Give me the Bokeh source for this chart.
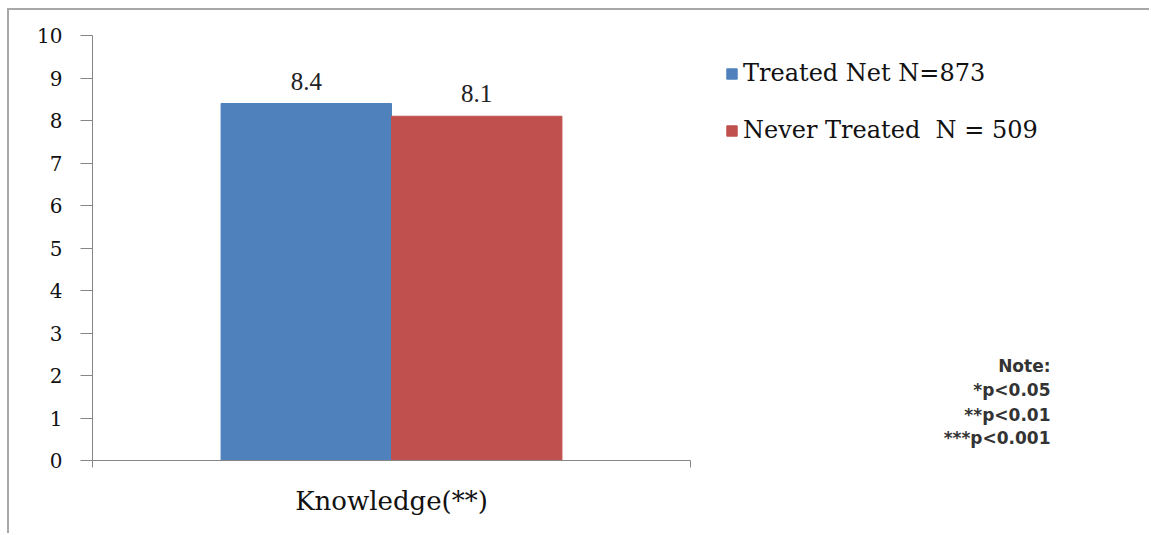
from bokeh.plotting import figure
from bokeh.models import Range1d, FixedTicker, ColumnDataSource, LabelSet, Label, Legend, LegendItem
from bokeh.transform import dodge
from bokeh.embed import file_html
from bokeh.resources import INLINE

# ---- data ----
categories = ["Knowledge(**)"]
series_names = ["Treated Net N=873", "Never Treated  N = 509"]
treated = [8.4]
never_treated = [8.1]
colors = ["#4F81BD", "#C0504D"]
y_ticks = list(range(0, 11))
y_max = 10
note_lines = ["Note:", "*p<0.05", "**p<0.01", "***p<0.001"]

# ---- layout (pixels) ----
W, H = 1142, 525
left, bottom = 83, 75
frame_w, frame_h = W - left, H - bottom
cat_px = 598          # width of the category axis in pixels
top_px = 25           # gap between y=10 and the top of the frame
n = len(categories)

p = figure(width=W, height=H, output_backend="svg", toolbar_location=None,
           x_range=Range1d(0, n * frame_w / cat_px),
           y_range=Range1d(0, y_max * frame_h / (frame_h - top_px)),
           min_border_left=left, min_border_right=0, min_border_top=0, min_border_bottom=bottom,
           background_fill_color="#ffffff", border_fill_color="#ffffff")
p.styles = {"margin-left": "9px", "margin-top": "10px",
            "box-shadow": "-2px -2px 0 0 #a8a8a8"}
p.outline_line_color = None
p.xgrid.visible = False
p.ygrid.visible = False

centers = [i + 0.5 for i in range(n)]
src = ColumnDataSource(dict(x=centers, cat=categories, treated=treated, never=never_treated,
                            tl=[f"{v:.1f}" for v in treated], nl=[f"{v:.1f}" for v in never_treated]))
bw = 0.285
r1 = p.vbar(x=dodge('x', -bw / 2, range=p.x_range), top='treated', width=bw, source=src,
            fill_color=colors[0], line_color=colors[0])
r2 = p.vbar(x=dodge('x', bw / 2, range=p.x_range), top='never', width=bw, source=src,
            fill_color=colors[1], line_color=colors[1])

for col, lab, off in [("treated", "tl", -bw / 2), ("never", "nl", bw / 2)]:
    p.add_layout(LabelSet(x=dodge('x', off, range=p.x_range), y=col, text=lab, source=src,
                          text_align="center", text_baseline="bottom", y_offset=14,
                          text_font="DejaVu Sans", text_font_size="25px", text_color="#222222"))

# axes
ax = p.xaxis[0]
ax.bounds = (0, n)
ax.ticker = FixedTicker(ticks=centers, minor_ticks=list(range(n + 1)))
ax.major_label_overrides = {c: name for c, name in zip(centers, categories)}
ax.major_tick_out = 0
ax.major_tick_in = 0
ax.minor_tick_out = 7
ax.minor_tick_in = 0
ax.minor_tick_line_color = "#868686"
ax.axis_line_color = "#868686"
ax.major_label_standoff = 18
ax.major_label_text_font = "DejaVu Serif"
ax.major_label_text_font_size = "26px"
ax.major_label_text_color = "#111111"

ay = p.yaxis[0]
ay.bounds = (0, y_max)
ay.ticker = FixedTicker(ticks=y_ticks)
ay.minor_tick_line_color = None
ay.major_tick_out = 12
ay.major_tick_in = 0
ay.major_tick_line_color = "#868686"
ay.axis_line_color = "#868686"
ay.major_label_standoff = 18
ay.major_label_text_font = "DejaVu Serif"
ay.major_label_text_font_size = "20px"
ay.major_label_text_color = "#111111"

legend = Legend(items=[LegendItem(label=series_names[0], renderers=[r1]),
                       LegendItem(label=series_names[1], renderers=[r2])],
                location=(633, 316), orientation="vertical", padding=0, margin=0,
                spacing=29, glyph_width=13, glyph_height=13, label_standoff=5,
                label_text_font="DejaVu Serif", label_text_font_size="24px",
                label_text_color="#111111",
                border_line_color=None, background_fill_alpha=0)
p.add_layout(legend, "center")

# note (right aligned)
note_x = 1.602
note_y = [2.235, 1.65, 1.07, 0.54]
for t, yy in zip(note_lines, note_y):
    p.add_layout(Label(x=note_x, y=yy, text=t, text_align="right", text_baseline="middle",
                       text_font="DejaVu Sans", text_font_size="17px", text_font_style="bold",
                       text_color="#333333"))

open("out.html", "w").write(file_html(p, INLINE))
